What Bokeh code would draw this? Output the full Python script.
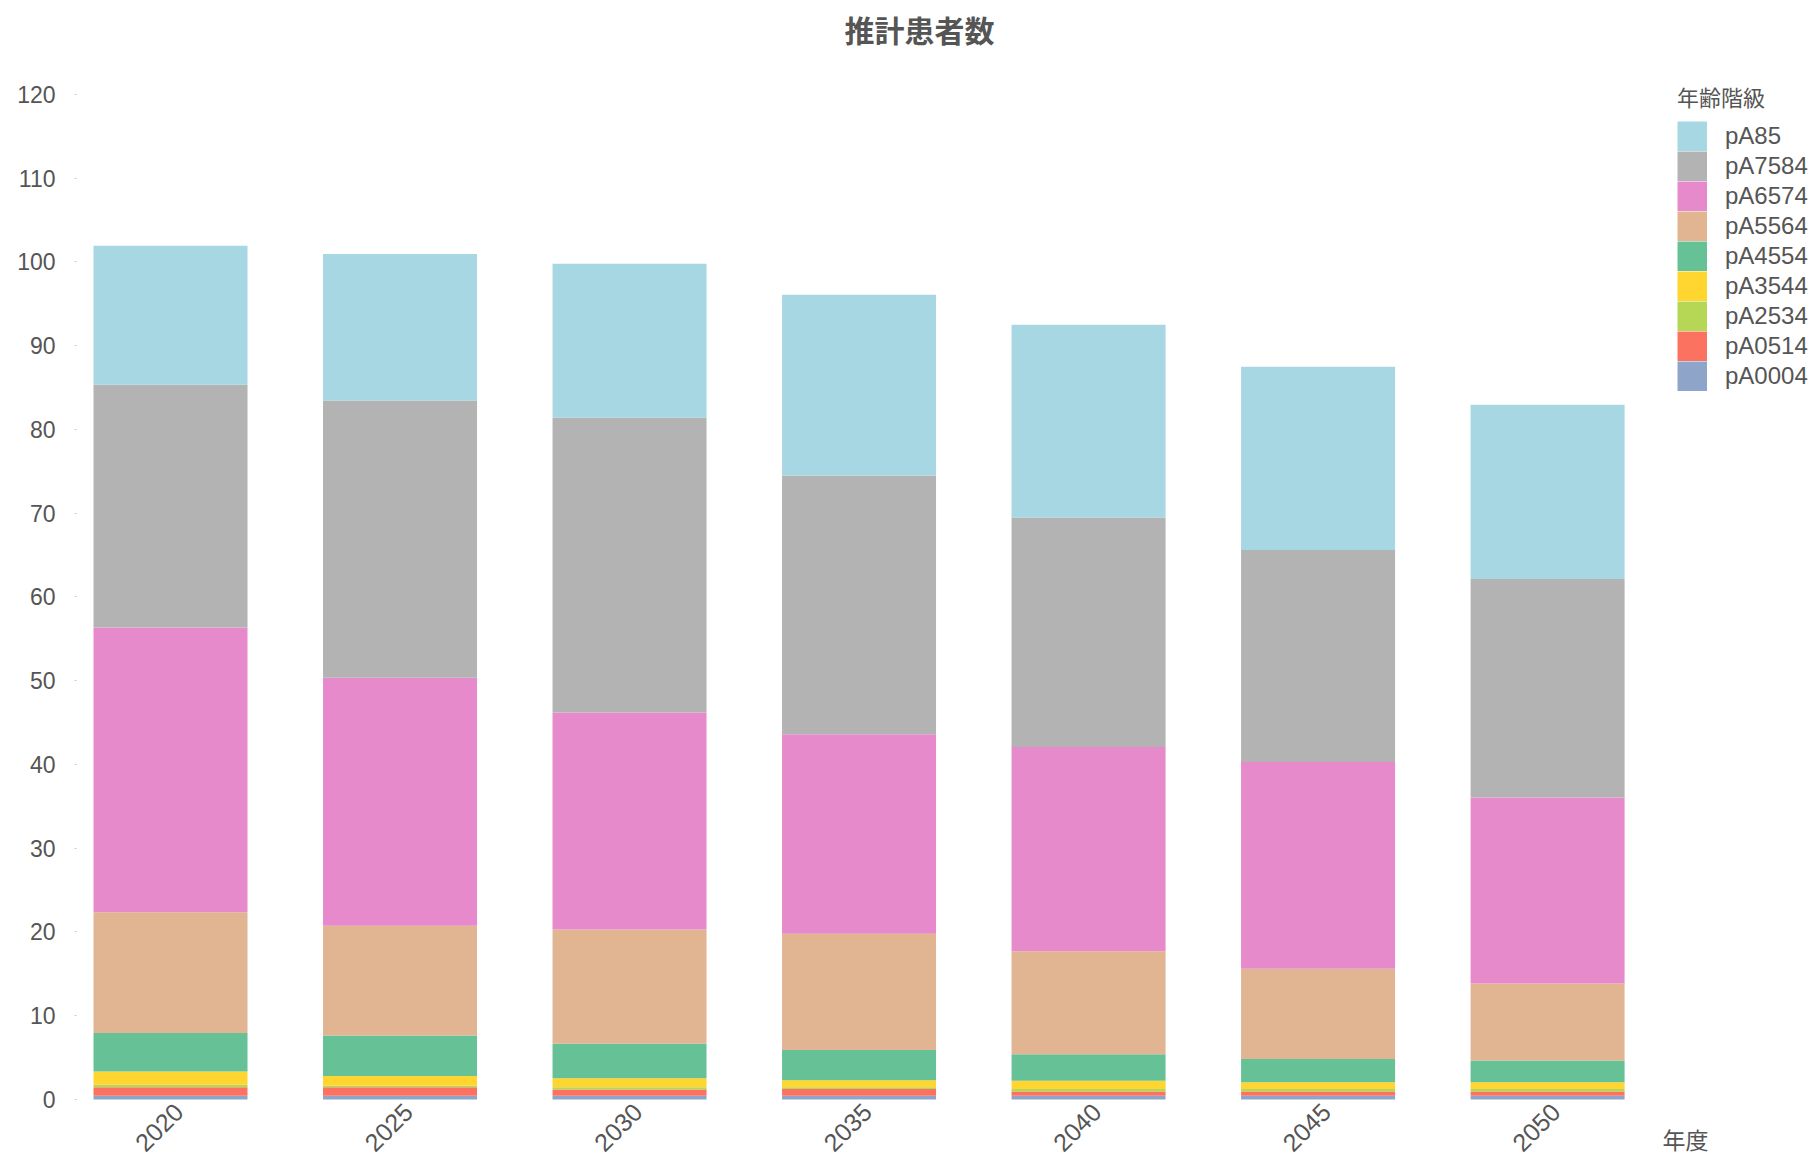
import math
from bokeh.plotting import figure
from bokeh.models import (Range1d, FixedTicker, Legend, LegendItem, Label,
                          ColumnDataSource)
from bokeh.embed import file_html
from bokeh.resources import INLINE

# ---------------- data ----------------
years = [2020, 2025, 2030, 2035, 2040, 2045, 2050]
groups = ["pA0004", "pA0514", "pA2534", "pA3544", "pA4554",
          "pA5564", "pA6574", "pA7584", "pA85"]
pA0004 = [0.45, 0.45, 0.45, 0.45, 0.45, 0.45, 0.45]
pA0514 = [1.0, 1.0, 0.75, 0.8, 0.5, 0.5, 0.5]
pA2534 = [0.3, 0.2, 0.25, 0.2, 0.3, 0.3, 0.3]
pA3544 = [1.6, 1.15, 1.1, 0.85, 1.0, 0.8, 0.8]
pA4554 = [4.6, 4.85, 4.1, 3.6, 3.15, 2.8, 2.6]
pA5564 = [14.4, 13.1, 13.65, 13.9, 12.3, 10.75, 9.2]
pA6574 = [34.0, 29.6, 25.9, 23.8, 24.4, 24.7, 22.2]
pA7584 = [29.0, 33.1, 35.2, 30.9, 27.4, 25.3, 26.1]
pA85 = [16.6, 17.5, 18.4, 21.6, 23.0, 21.9, 20.8]
y_ticks = [0, 10, 20, 30, 40, 50, 60, 70, 80, 90, 100, 110, 120]

title_text = "推計患者数"
legend_title = "年齢階級"
x_label = "年度"

colors = ["#8ea5c9", "#fb7360", "#b6d655", "#fed62f", "#66c296",
          "#e2b592", "#e68acc", "#b3b3b3", "#a6d7e2"]

data = dict(year=years, pA0004=pA0004, pA0514=pA0514, pA2534=pA2534,
            pA3544=pA3544, pA4554=pA4554, pA5564=pA5564, pA6574=pA6574,
            pA7584=pA7584, pA85=pA85)
src = ColumnDataSource(data)

FONT = "Liberation Sans"
CJK = "Noto Sans CJK JP"
TXT = "#555555"

W, H = 1817, 1156
LEFT = 76
p = figure(width=W, height=H,
           x_range=Range1d(2017.952, 2055.88),
           y_range=Range1d(-6.806, 131.22),
           output_backend="svg", toolbar_location=None,
           min_border=0, min_border_left=LEFT)

bars = p.vbar_stack(groups, x="year", width=3.355, source=src,
                    fill_color=colors, line_color=None)

# ---------------- styling ----------------
p.outline_line_color = None
p.xgrid.grid_line_color = None
p.ygrid.grid_line_color = None
p.background_fill_color = "white"
p.border_fill_color = "white"

ya = p.yaxis[0]
ya.ticker = FixedTicker(ticks=y_ticks)
ya.axis_line_color = None
ya.major_tick_out = 2
ya.major_tick_in = 0
ya.major_tick_line_color = "#cccccc"
ya.minor_tick_line_color = None
ya.major_label_standoff = 19
ya.major_label_text_font = FONT
ya.major_label_text_font_size = "23px"
ya.major_label_text_color = TXT

# year labels: anchored slightly right of each bar centre (as in the reference)
label_shift = 0.18
x_ticks = [round(y + label_shift, 2) for y in years]
xa = p.xaxis[0]
xa.ticker = FixedTicker(ticks=x_ticks)
xa.major_label_overrides = {t: str(y) for t, y in zip(x_ticks, years)}
xa.fixed_location = 0
xa.axis_line_color = None
xa.major_tick_line_color = None
xa.major_tick_out = 0
xa.major_tick_in = 0
xa.minor_tick_line_color = None
xa.major_label_orientation = math.pi / 4
xa.major_label_standoff = 8
xa.major_label_text_font = FONT
xa.major_label_text_font_size = "25px"
xa.major_label_text_color = TXT

# title (inside the frame, screen units from frame bottom-left)
p.add_layout(Label(x=919 - LEFT, y=H - 28, x_units="screen", y_units="screen",
                   text=title_text, text_font=CJK, text_font_size="30px",
                   text_font_style="bold", text_color=TXT,
                   text_align="center", text_baseline="middle"))

# x axis name
p.add_layout(Label(x=1685 - LEFT, y=H - 1138, x_units="screen", y_units="screen",
                   text=x_label, text_font=CJK, text_font_size="23px",
                   text_color=TXT, text_align="center", text_baseline="middle"))

# ---------------- legend ----------------
# key-only renderers, drawn underneath the (opaque) 2035 bar so they stay hidden;
# the wide same-colour outline fills the legend inset so the keys touch
items = []
for g, c in reversed(list(zip(groups, colors))):
    r = p.vbar(x=[2035], bottom=[30], top=[31], width=0.5, level="underlay",
               fill_color=c, line_color=c, line_width=6, line_join="miter")
    items.append(LegendItem(label=g, renderers=[r]))

legend = Legend(items=items, location=(1677 - LEFT, H - 391),
                title=legend_title, title_text_font=CJK,
                title_text_font_style="normal",
                title_text_font_size="22px", title_text_color=TXT,
                title_standoff=9,
                label_text_font=FONT, label_text_font_size="24px",
                label_text_color=TXT, label_standoff=18,
                glyph_width=30, glyph_height=30, label_height=30,
                spacing=0, padding=0, margin=0,
                border_line_color=None, background_fill_alpha=0)
p.add_layout(legend, "center")

open("out.html", "w").write(file_html(p, INLINE))
